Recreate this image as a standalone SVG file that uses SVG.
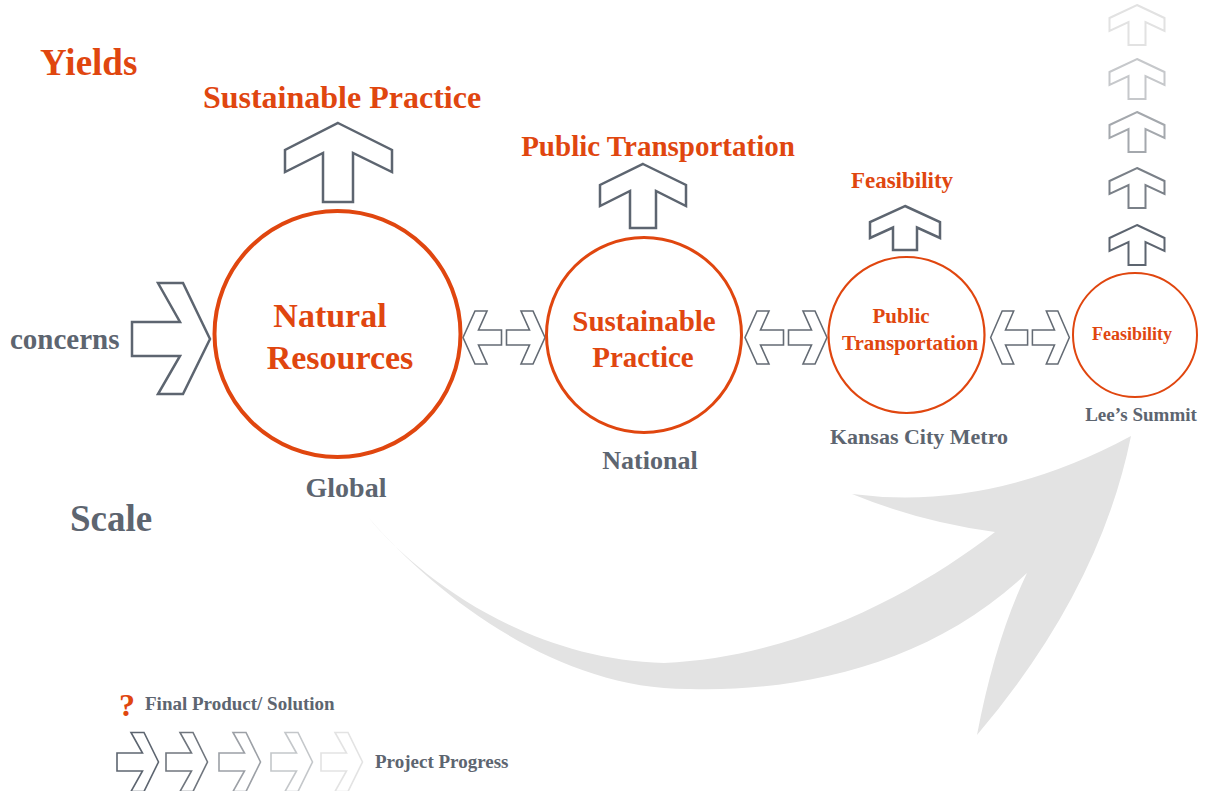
<svg xmlns="http://www.w3.org/2000/svg" width="1212" height="791" viewBox="0 0 1212 791">
<style>
.t{font-family:"Liberation Serif","Times New Roman",serif;font-weight:bold}
.o{fill:#e0460f}
.g{fill:#5d6570}
.ring{fill:none;stroke:#e0460f}
.ar{fill:#fff;stroke:#5d6570;stroke-width:2.5;stroke-linejoin:miter}
.da{fill:#fff;stroke:#646b74;stroke-width:1.6}
</style>
<defs>
<g id="dbl">
<path d="M-41,0 L-29,-26.5 L-17,-26.5 L-25.5,-7.5 L-2.5,-7.5 L-2.5,7.5 L-25.5,7.5 L-17,26.5 L-29,26.5 Z"/>
<path d="M41,0 L29,-26.5 L17,-26.5 L25.5,-7.5 L2.5,-7.5 L2.5,7.5 L25.5,7.5 L17,26.5 L29,26.5 Z"/>
</g>
<path id="up" d="M0,0 L27.5,13 L27.5,26 L8.5,17 L8.5,40 L-8.5,40 L-8.5,17 L-27.5,26 L-27.5,13 Z"/>
<path id="rt" d="M0,-9 L25.5,-9 L14,-29.5 L27,-29.5 L41.5,0 L27,29.5 L14,29.5 L25.5,9 L0,9 Z"/>
</defs>

<!-- big curved progress arrow -->
<path id="progress-arrow" fill="#e3e3e3" d="M368,517 C420,580 530,660 664,663 C800,657 920,590 995,532 Q920,522 852,494 Q990,512 1131,436 Q1100,590 977,735 Q995,640 1027,573 C930,665 800,692 690,689 C560,690 440,600 368,517 Z"/>

<!-- headings -->
<text class="t o" x="40" y="75" font-size="37">Yields</text>
<text class="t g" x="70" y="531" font-size="37">Scale</text>

<g id="concerns">
<text class="t g" x="10" y="349" font-size="29">concerns</text>
<path class="ar" d="M132,322 L180,322 L158,283 L183,283 L210,339 L183,394 L158,394 L180,356 L132,356 Z"/>
</g>

<g id="connectors">
<use href="#dbl" class="da" transform="translate(504,337.5)"/>
<use href="#dbl" class="da" transform="translate(786,337.5)"/>
<use href="#dbl" class="da" transform="translate(1030,337.5) scale(0.96,1)"/>
</g>

<g id="node-natural-resources">
<circle class="ring" cx="337.5" cy="334" r="123" stroke-width="4"/>
<text class="t o" x="330" y="327" font-size="34" text-anchor="middle">Natural</text>
<text class="t o" x="340" y="369" font-size="34" text-anchor="middle">Resources</text>
<text class="t g" x="346" y="497" font-size="28" text-anchor="middle">Global</text>
<path class="ar" d="M338,123 L392,150 L392,172 L353,153 L353,202 L323,202 L323,153 L285,172 L285,150 Z"/>
<text class="t o" x="342" y="108" font-size="32" text-anchor="middle">Sustainable Practice</text>
</g>

<g id="node-sustainable-practice">
<circle class="ring" cx="644" cy="335" r="97.5" stroke-width="3"/>
<text class="t o" x="644" y="331" font-size="29" text-anchor="middle">Sustainable</text>
<text class="t o" x="643" y="367" font-size="29" text-anchor="middle">Practice</text>
<text class="t g" x="650" y="469" font-size="26" text-anchor="middle">National</text>
<path class="ar" d="M643,164 L686,185 L686,206 L656,191 L656,228 L630,228 L630,191 L600,206 L600,185 Z"/>
<text class="t o" x="658" y="156" font-size="29" text-anchor="middle">Public Transportation</text>
</g>

<g id="node-public-transportation">
<circle class="ring" cx="906.5" cy="335" r="78" stroke-width="2.2"/>
<text class="t o" x="901" y="323" font-size="21" text-anchor="middle">Public</text>
<text class="t o" x="910" y="350" font-size="21" text-anchor="middle">Transportation</text>
<text class="t g" x="919" y="444" font-size="22" text-anchor="middle">Kansas City Metro</text>
<path class="ar" d="M905,206 L940,222 L940,238 L917,227.5 L917,250 L893,250 L893,227.5 L870,238 L870,222 Z"/>
<text class="t o" x="902" y="188" font-size="23" text-anchor="middle">Feasibility</text>
</g>

<g id="node-feasibility">
<circle class="ring" cx="1135" cy="335" r="62" stroke-width="2"/>
<text class="t o" x="1132" y="340" font-size="18" text-anchor="middle">Feasibility</text>
<text class="t g" x="1141" y="421" font-size="19" text-anchor="middle">Lee’s Summit</text>
<g fill="#fff" stroke-width="2">
<use href="#up" stroke="#5d6570" transform="translate(1137,225)"/>
<use href="#up" stroke="#7a8088" transform="translate(1137,168)"/>
<use href="#up" stroke="#a4a8ad" transform="translate(1137,112)"/>
<use href="#up" stroke="#c6c8cb" transform="translate(1137,59)"/>
<use href="#up" stroke="#e2e2e2" transform="translate(1137,5)"/>
</g>
</g>

<g id="legend">
<text class="t o" x="119" y="716" font-size="32">?</text>
<text class="t g" x="145" y="710" font-size="19">Final Product/ Solution</text>
<g fill="#fff" stroke-width="1.6">
<use href="#rt" stroke="#5d6570" transform="translate(117,762)"/>
<use href="#rt" stroke="#70767e" transform="translate(166,762)"/>
<use href="#rt" stroke="#9ca0a6" transform="translate(219,762)"/>
<use href="#rt" stroke="#c4c7ca" transform="translate(271,762)"/>
<use href="#rt" stroke="#e3e3e3" transform="translate(321,762)"/>
</g>
<text class="t g" x="375" y="768" font-size="19">Project Progress</text>
</g>
</svg>
